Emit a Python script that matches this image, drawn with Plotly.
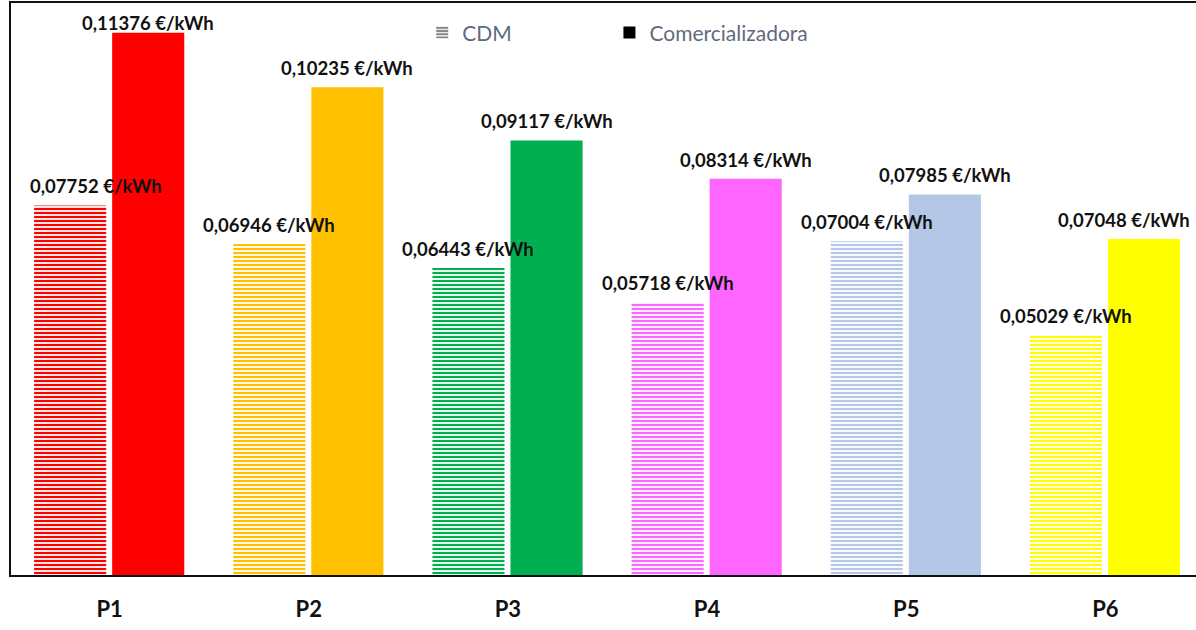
import plotly.graph_objects as go

categories = ["P1", "P2", "P3", "P4", "P5", "P6"]
cdm_values = [0.07752, 0.06946, 0.06443, 0.05718, 0.07004, 0.05029]
com_values = [0.11376, 0.10235, 0.09117, 0.08314, 0.07985, 0.07048]
bar_colors = ["#FF0000", "#FFC000", "#00B050", "#FF66FF", "#B4C7E7", "#FFFF00"]
series_names = ["CDM", "Comercializadora"]

# style
BAR_W = 0.362
CDM_OFF = -0.379
COM_OFF = 0.013
LABEL_FONT = dict(family="Lato", size=18.5, color="#111111")
LEGEND_FONT = dict(family="Lato", size=21, color="#5f6b7d")
# per-label pixel tweaks (to keep labels inside the frame)
cdm_xshift = [26, 0, 0, 0, 0, 0]
com_xshift = [0, 0, 0, 0, 0, -20]
cdm_yshift = [6, 6, 6, 6, 6, 6]
com_yshift = [-3, 6, 6, 6, 6, 6]


def fmt(v):
    return f"<b>{v:.5f}".replace(".", ",") + " €/kWh</b>"


fig = go.Figure()
for i, cat in enumerate(categories):
    fig.add_trace(go.Bar(
        x=[cat], y=[cdm_values[i]], name=series_names[0], showlegend=False,
        width=BAR_W, offset=CDM_OFF,
        marker=dict(color=bar_colors[i], line=dict(width=0),
                    pattern=dict(shape="-", size=4, solidity=0.55,
                                 fgcolor=bar_colors[i], bgcolor="white",
                                 fillmode="replace")),
    ))
fig.add_trace(go.Bar(
    x=categories, y=com_values, name=series_names[1], showlegend=False,
    width=BAR_W, offset=COM_OFF,
    marker=dict(color=bar_colors, line=dict(width=0)),
))
# legend entries (black swatches as in the original)
fig.add_trace(go.Bar(
    x=[None], y=[None], name=series_names[0], legend="legend",
    marker=dict(color="black", line=dict(width=0),
                pattern=dict(shape="-", size=4, solidity=0.6,
                             fgcolor="black", bgcolor="white")),
))
fig.add_trace(go.Bar(
    x=[None], y=[None], name=series_names[1], legend="legend2",
    marker=dict(color="black", line=dict(width=0)),
))

annotations = []
for i, cat in enumerate(categories):
    annotations.append(dict(
        x=i + CDM_OFF + BAR_W / 2, y=cdm_values[i], xref="x", yref="y",
        text=fmt(cdm_values[i]), showarrow=False, yanchor="bottom",
        xshift=cdm_xshift[i], yshift=cdm_yshift[i], font=LABEL_FONT))
    annotations.append(dict(
        x=i + COM_OFF + BAR_W / 2, y=com_values[i], xref="x", yref="y",
        text=fmt(com_values[i]), showarrow=False, yanchor="bottom",
        xshift=com_xshift[i], yshift=com_yshift[i], font=LABEL_FONT))

fig.update_layout(
    width=1196, height=630,
    margin=dict(l=11, r=0, t=3, b=55),
    paper_bgcolor="white", plot_bgcolor="white",
    barmode="overlay",
    font=dict(family="Lato"),
    annotations=annotations,
    legend=dict(orientation="h", x=0.347, y=0.9476, xanchor="left", yanchor="middle",
                font=LEGEND_FONT, itemwidth=30, bgcolor="rgba(0,0,0,0)"),
    legend2=dict(orientation="h", x=0.505, y=0.9476, xanchor="left", yanchor="middle",
                 font=LEGEND_FONT, itemwidth=30, bgcolor="rgba(0,0,0,0)"),
    xaxis=dict(type="category", range=[-0.495, 5.455], showline=True, linecolor="#111111",
               linewidth=2, mirror=True, showgrid=False, ticks="",
               tickfont=dict(family="Lato", size=22, color="#111111", weight="bold"),
               ticklabelstandoff=14),
    yaxis=dict(range=[0, 0.12], showline=True, linecolor="#111111", linewidth=2,
               showgrid=False, zeroline=False, showticklabels=False, ticks=""),
)

fig.write_html("out.html", config={"displayModeBar": False},
               post_script="document.body.style.margin='0';")
